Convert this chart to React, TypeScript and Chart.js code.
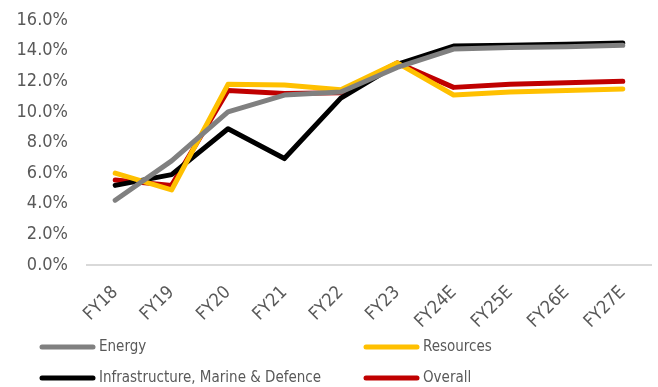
import React, { useEffect, useRef } from "react";
import { Chart, registerables } from "chart.js";

Chart.register(...registerables);

const categories = ["FY18", "FY19", "FY20", "FY21", "FY22", "FY23", "FY24E", "FY25E", "FY26E", "FY27E"];
const energy = [4.23, 6.8, 10.0, 11.1, 11.3, 12.9, 14.1, 14.2, 14.25, 14.35];
const resources = [6.0, 4.9, 11.8, 11.75, 11.45, 13.2, 11.1, 11.3, 11.4, 11.5];
const infrastructure = [5.2, 5.9, 8.9, 6.95, 10.9, 13.1, 14.3, 14.35, 14.42, 14.5];
const overall = [5.55, 5.2, 11.4, 11.2, 11.25, 13.2, 11.6, 11.8, 11.9, 12.0];
const yTicks = [0, 2, 4, 6, 8, 10, 12, 14, 16];

const FONT = "'DejaVu Sans Condensed', 'DejaVu Sans', sans-serif";
const TEXT = "#595959";

const series = [
  { label: "Energy", data: energy, color: "#808080" },
  { label: "Resources", data: resources, color: "#FFC000" },
  { label: "Infrastructure, Marine & Defence", data: infrastructure, color: "#000000" },
  { label: "Overall", data: overall, color: "#C00000" },
];

// Two-column legend drawn under the axis labels
const legendSlots = [
  { x: 40, y: 347 },
  { x: 364, y: 347 },
  { x: 40, y: 378 },
  { x: 364, y: 378 },
];

const legendPlugin = {
  id: "twoColumnLegend",
  afterDraw(chart: any) {
    const ctx = chart.ctx as CanvasRenderingContext2D;
    ctx.save();
    series.forEach((s, i) => {
      const slot = legendSlots[i];
      ctx.strokeStyle = s.color;
      ctx.lineWidth = 5;
      ctx.lineCap = "round";
      ctx.beginPath();
      ctx.moveTo(slot.x + 2, slot.y);
      ctx.lineTo(slot.x + 53, slot.y);
      ctx.stroke();
      ctx.fillStyle = TEXT;
      ctx.font = `15px ${FONT}`;
      ctx.textBaseline = "middle";
      ctx.textAlign = "left";
      ctx.fillText(s.label, slot.x + 59, slot.y);
    });
    ctx.restore();
  },
};

export default function App() {
  const canvasRef = useRef<HTMLCanvasElement | null>(null);

  useEffect(() => {
    const canvas = canvasRef.current;
    if (!canvas) return;
    const chart = new Chart(canvas, {
      type: "line",
      data: {
        labels: categories,
        datasets: series.map((s) => ({
          label: s.label,
          data: s.data,
          borderColor: s.color,
          backgroundColor: s.color,
          borderWidth: 5,
          pointRadius: 0,
          pointHoverRadius: 0,
          tension: 0,
          borderCapStyle: "round" as const,
          borderJoinStyle: "round" as const,
          fill: false,
        })),
      },
      options: {
        responsive: false,
        animation: false,
        events: [],
        layout: { padding: { top: 20, right: 7, left: 0, bottom: 0 } },
        plugins: {
          legend: { display: false },
          tooltip: { enabled: false },
        },
        scales: {
          x: {
            offset: true,
            grid: { display: false, drawTicks: false },
            border: { display: true, color: "#d9d9d9", width: 2 },
            ticks: {
              color: TEXT,
              font: { family: FONT, size: 18 },
              minRotation: 45,
              maxRotation: 45,
              autoSkip: false,
              padding: 17,
            },
            afterFit(scale: any) {
              scale.height = 122;
            },
          },
          y: {
            min: 0,
            max: 16,
            grid: { display: false, drawTicks: false },
            border: { display: false },
            afterBuildTicks(scale: any) {
              scale.ticks = yTicks.map((v) => ({ value: v }));
            },
            ticks: {
              color: TEXT,
              font: { family: FONT, size: 18 },
              padding: 19,
              callback: (v: any) => `${Number(v).toFixed(1)}%`,
            },
            afterFit(scale: any) {
              scale.width = 87;
              scale.paddingTop = 11;
              scale.paddingBottom = 11;
            },
          },
        },
      },
      plugins: [legendPlugin],
    });
    return () => chart.destroy();
  }, []);

  return (
    <div style={{ position: "absolute", left: 0, top: 0, width: 658, height: 387, background: "#fff" }}>
      <canvas ref={canvasRef} width={658} height={387} />
    </div>
  );
}
